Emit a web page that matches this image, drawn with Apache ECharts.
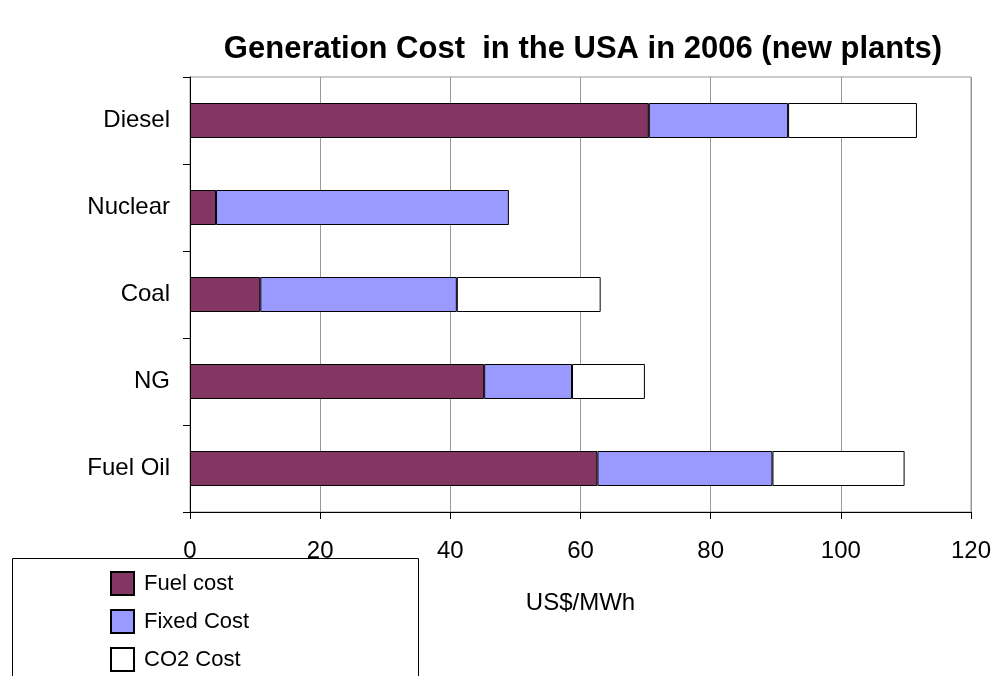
<!DOCTYPE html>
<html>
<head>
<meta charset="utf-8">
<script src="https://cdn.jsdelivr.net/npm/echarts@6/dist/echarts.min.js"></script>
<style>
  html, body { margin: 0; padding: 0; background: #fff; }
  #chart { width: 994px; height: 676px; }
</style>
</head>
<body>
<div id="chart"></div>
<script>
// Categories listed bottom-to-top (category axis draws first item at the bottom)
const categories = ['Fuel Oil', 'NG', 'Coal', 'Nuclear', 'Diesel'];
const fuelCost  = [62.6, 45.2, 10.8, 4.0, 70.5];
const fixedCost = [26.9, 13.5, 30.2, 45.0, 21.4];
const co2Cost   = [20.3, 11.2, 22.1, null, 19.8];
const seriesNames = ['Fuel cost', 'Fixed Cost', 'CO2 Cost'];
const xTicks = { min: 0, max: 120, interval: 20 };

const FONT = '"Liberation Sans", Arial, sans-serif';
const chart = echarts.init(document.getElementById('chart'), null, { renderer: 'canvas' });

const barStyle = (color) => ({ color: color, borderColor: '#000', borderWidth: 1 });

chart.setOption({
  animation: false,
  backgroundColor: '#fff',
  title: {
    text: 'Generation Cost  in the USA in 2006 (new plants)',
    left: 578,
    top: 29,
    textAlign: 'center',
    textStyle: { fontFamily: FONT, fontWeight: 'bold', fontSize: 31, color: '#000' }
  },
  grid: {
    left: 190, right: 22, top: 77, bottom: 164,
    show: true, borderColor: '#999', borderWidth: 1, backgroundColor: 'transparent'
  },
  legend: {
    orient: 'vertical',
    left: 110,
    top: 571,
    height: 140,
    padding: 0,
    itemWidth: 23,
    itemHeight: 23,
    itemGap: 13,
    icon: 'rect',
    data: seriesNames,
    textStyle: { fontFamily: FONT, fontSize: 22, color: '#000', padding: [0, 0, 0, 5] }
  },
  graphic: [{
    type: 'rect',
    shape: { x: 12.5, y: 558.5, width: 406, height: 140 },
    style: { fill: 'none', stroke: '#000', lineWidth: 1 },
    silent: true, z: -1
  }],
  xAxis: {
    type: 'value',
    min: xTicks.min, max: xTicks.max, interval: xTicks.interval,
    name: 'US$/MWh',
    nameLocation: 'middle',
    nameGap: 79,
    nameTextStyle: { fontFamily: FONT, fontSize: 24, color: '#000', verticalAlign: 'top' },
    axisLine: { show: true, lineStyle: { color: '#000', width: 1 } },
    axisTick: { show: true, inside: false, length: 7, lineStyle: { color: '#000' } },
    axisLabel: { fontFamily: FONT, fontSize: 24, color: '#000', margin: 27 },
    splitLine: { show: true, lineStyle: { color: '#999', width: 1 } }
  },
  yAxis: {
    type: 'category',
    data: categories,
    axisLine: { show: true, lineStyle: { color: '#000', width: 1 } },
    axisTick: { show: true, inside: false, length: 7, alignWithLabel: false, lineStyle: { color: '#000' } },
    axisLabel: { fontFamily: FONT, fontSize: 24, color: '#000', margin: 20 },
    splitLine: { show: false }
  },
  series: [
    { name: seriesNames[0], type: 'bar', stack: 'cost', barWidth: 35, data: fuelCost,  itemStyle: barStyle('#843663') },
    { name: seriesNames[1], type: 'bar', stack: 'cost', barWidth: 35, data: fixedCost, itemStyle: barStyle('#9999FF') },
    { name: seriesNames[2], type: 'bar', stack: 'cost', barWidth: 35, data: co2Cost,   itemStyle: barStyle('#FFFFFF') }
  ]
});
</script>
</body>
</html>
